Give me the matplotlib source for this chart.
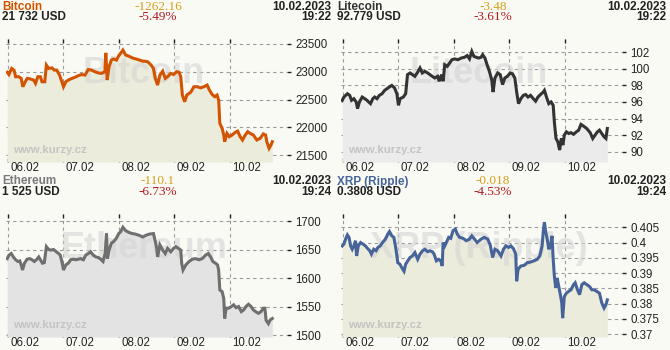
import matplotlib
matplotlib.use("Agg")
import matplotlib.pyplot as plt
import matplotlib.transforms as mtransforms

# hours since 06.02 00:00
btc_t = [-0.3, 0.4, 1.6, 2.6, 3.3, 4.7, 5.7, 6.4, 7.1, 8.3, 9.7, 11.1, 11.9, 12.9, 14.0, 14.7, 15.9, 16.6, 17.6, 19.0,
         20.0, 21.1, 22.3, 23.3, 24.0, 25.0, 26.1, 27.6, 29.0, 30.4, 31.9, 33.3, 34.7, 36.1, 37.6, 39.0, 40.4, 41.9, 42.3, 42.9,
         43.7, 44.7, 45.7, 46.9, 47.9, 48.7, 49.7, 50.9, 52.3, 53.7, 55.4, 56.9, 58.3,
         59.0, 60.4, 61.9, 62.9, 63.7, 64.7, 65.7, 66.9, 68.0, 69.0, 70.4, 71.6, 72.9, 74.0, 74.7, 75.4, 76.4, 77.3, 79.0, 80.4,
         81.9, 83.3, 84.7, 86.1, 87.1, 88.3, 89.4, 90.4, 91.1, 91.6, 92.6, 93.3, 93.7, 94.7, 95.7, 96.9, 98.3, 99.3, 100.4, 101.4,
         102.6, 103.7, 104.7, 106.1, 107.6, 109.0, 110.4, 111.4, 111.9, 112.9, 113.7, 114.3]
btc_v = [22990, 22950, 23060, 23030, 22910, 22910, 22880, 22730, 22790, 22880, 22870, 22850, 22790, 22910, 22910, 22820, 22820, 23120, 23060, 23070,
         23030, 23030, 22940, 22820, 22730, 22820, 22850, 22880, 22900, 22930, 22950, 22940, 23040, 23030, 23000, 22980, 22970, 23000, 23340, 22850,
         23090, 23210, 23230, 23210, 23290, 23330, 23390, 23300, 23280, 23250, 23230, 23210, 23190,
         23190, 23180, 23120, 23060, 22880, 22760, 22940, 23010, 22880, 22910, 22970, 22950, 23000, 22990, 22910, 22580, 22460, 22580, 22630, 22730,
         22730, 22710, 22730, 22760, 22670, 22590, 22550, 22580, 22490, 22070, 21980, 21860, 21740, 21890, 21830, 21860, 21910, 21930, 21830, 21770,
         21860, 21920, 21890, 21860, 21770, 21800, 21880, 21860, 21740, 21620, 21680, 21740]

ltc_t = [-0.3, 0.4, 1.9, 2.9, 3.7, 4.7, 5.7, 6.3, 7.1, 8.3, 9.4, 10.4, 11.1, 11.9, 12.9, 13.7, 14.7, 15.7, 16.9, 18.0,
         19.0, 20.0, 21.1, 22.3, 23.3, 24.0, 24.7, 26.1, 27.1, 27.9, 29.0, 30.0, 31.1, 32.3, 33.3, 34.3, 35.4, 36.6, 37.6, 38.6,
         39.7, 40.9, 41.6, 42.6, 43.3, 44.0, 45.1, 46.1, 47.1, 48.3, 49.7, 51.1, 52.6, 53.7, 54.7, 55.7, 56.6, 57.6, 58.6,
         59.7, 60.4, 61.4, 62.3, 63.3, 64.3, 64.9, 65.7, 66.9, 68.0, 69.0, 70.0, 71.1, 72.3, 73.3, 74.3, 75.1, 75.9, 76.9, 78.0,
         79.0, 80.0, 81.1, 82.3, 83.3, 84.3, 85.4, 86.6, 87.1, 88.0, 89.0, 90.0, 90.9, 91.4, 92.1, 92.9, 93.7, 94.4, 95.1, 95.7,
         96.6, 97.6, 98.6, 99.7, 100.9, 101.9, 102.9, 104.0, 105.4, 106.9, 108.0, 109.0, 110.0, 110.9, 111.9, 112.9, 113.7, 114.3]
ltc_v = [96.2, 96.6, 97.0, 96.8, 96.2, 96.4, 96.0, 95.2, 96.0, 96.6, 96.4, 96.2, 96.0, 95.8, 96.4, 96.6, 96.4, 96.8, 97.0, 97.4,
         97.6, 97.8, 98.0, 97.7, 97.0, 95.6, 96.4, 96.6, 97.0, 99.3, 99.5, 99.3, 99.1, 99.6, 100.1, 99.5, 99.7, 99.5, 99.3, 99.1,
         98.9, 99.1, 98.5, 99.3, 98.5, 100.5, 100.3, 100.7, 101.1, 101.2, 101.1, 101.3, 101.4, 101.6, 101.2, 102.1, 101.5, 101.4, 101.3,
         101.4, 101.7, 101.3, 100.5, 99.7, 98.7, 97.2, 98.9, 99.5, 99.3, 98.1, 98.9, 99.1, 99.5, 99.4, 98.9, 97.2, 95.8, 96.4, 96.8,
         96.9, 96.6, 96.8, 96.4, 96.1, 96.6, 96.9, 97.2, 97.4, 96.6, 95.8, 96.0, 95.6, 93.6, 91.6, 91.2, 90.2, 91.6, 90.8, 92.0,
         92.4, 92.2, 92.3, 92.1, 92.4, 92.6, 93.3, 93.1, 92.8, 92.3, 91.6, 92.0, 92.4, 92.6, 92.2, 91.8, 91.6, 92.8]

eth_t = [-0.3, 0.4, 1.4, 2.3, 3.3, 4.3, 5.1, 5.7, 6.3, 7.1, 8.3, 9.4, 10.4, 11.4, 12.3, 13.3, 14.0, 14.9, 15.7, 16.6,
         17.6, 18.6, 19.7, 20.9, 21.9, 22.6, 23.3, 24.0, 25.0, 26.1, 27.1, 28.3, 29.4, 30.4, 31.4, 32.6, 33.6, 34.7, 35.7, 36.9,
         38.0, 39.0, 40.1, 41.1, 42.0, 42.6, 43.0, 43.7, 44.7, 45.7, 46.9, 47.9, 48.7, 49.7, 50.9, 52.3, 53.7, 55.1, 56.6, 58.3,
         59.7, 61.1, 62.9, 63.7, 64.3, 64.7, 65.7, 66.9, 68.0, 69.0, 70.4, 71.6, 72.6, 73.7, 74.7, 75.1, 75.7, 76.9, 78.3, 79.7,
         81.1, 82.6, 84.0, 85.4, 86.6, 87.6, 88.6, 89.7, 90.6, 91.1, 91.6, 92.6, 93.3, 93.7, 94.3, 95.4, 96.6, 97.6, 98.6, 99.7,
         100.9, 101.9, 102.9, 104.0, 105.1, 106.1, 107.1, 108.3, 109.4, 110.4, 111.1, 111.6, 112.6, 113.3, 114.3]
eth_v = [1634, 1640, 1643, 1637, 1632, 1629, 1630, 1623, 1614, 1626, 1633, 1634, 1632, 1629, 1632, 1637, 1632, 1626, 1627, 1655,
         1650, 1649, 1650, 1646, 1643, 1640, 1629, 1614, 1623, 1626, 1632, 1633, 1632, 1633, 1634, 1632, 1640, 1643, 1646, 1640,
         1637, 1636, 1633, 1629, 1643, 1678, 1634, 1649, 1661, 1664, 1670, 1678, 1681, 1689, 1683, 1680, 1678, 1677, 1675, 1672,
         1675, 1677, 1678, 1664, 1652, 1637, 1658, 1649, 1643, 1652, 1646, 1652, 1655, 1652, 1649, 1626, 1614, 1623, 1629, 1633,
         1634, 1632, 1634, 1640, 1643, 1637, 1629, 1626, 1623, 1614, 1579, 1576, 1564, 1529, 1547, 1547, 1550, 1553, 1548, 1550,
         1541, 1544, 1550, 1554, 1550, 1544, 1541, 1538, 1541, 1547, 1547, 1526, 1520, 1526, 1529]

xrp_t = [-0.3, 0.4, 1.1, 1.9, 2.6, 3.3, 4.0, 4.7, 5.4, 5.9, 6.6, 7.6, 8.6, 9.7, 10.7, 11.6, 12.3, 13.3, 14.3, 15.1,
         16.1, 17.1, 18.3, 19.4, 20.1, 21.1, 22.0, 22.9, 23.7, 24.6, 25.4, 26.4, 27.1, 28.0, 29.0, 30.0, 31.1, 32.3, 33.3, 34.4,
         35.4, 36.6, 37.6, 38.6, 39.4, 40.4, 41.4, 42.3, 42.9, 43.3, 44.0, 44.7, 45.7, 46.6, 47.6, 48.6, 49.4, 50.4, 51.9, 53.3,
         54.7, 55.7, 56.9, 58.0,
         59.7, 61.1, 62.6, 63.7, 64.7, 65.7, 66.9, 68.3, 69.4, 70.4, 71.6, 72.6, 73.7, 74.7, 75.1, 75.7, 76.9, 78.3, 79.7, 81.1,
         82.6, 84.0, 85.1, 86.1, 86.7, 87.1, 87.6, 88.3, 89.0, 89.7, 90.4, 90.9, 91.4, 92.0, 92.6, 93.3, 94.0, 94.6, 95.0, 95.7,
         96.6, 97.6, 98.6, 99.7, 100.4, 101.4, 102.3, 103.3, 104.3, 105.4, 106.6, 107.6, 108.6, 109.7, 110.9, 111.9, 112.9, 113.7, 114.3]
xrp_v = [0.3989, 0.3995, 0.4011, 0.4025, 0.4017, 0.3989, 0.3978, 0.3989, 0.4006, 0.3956, 0.3989, 0.4000, 0.3995, 0.3989, 0.3980, 0.3973, 0.3962, 0.3978, 0.3973, 0.3984,
         0.3989, 0.4000, 0.4011, 0.4028, 0.4036, 0.4022, 0.4017, 0.3978, 0.3934, 0.3929, 0.3918, 0.3906, 0.3929, 0.3940, 0.3951, 0.3956, 0.3967, 0.3945, 0.3962, 0.3973,
         0.3978, 0.3970, 0.3973, 0.3970, 0.3962, 0.3940, 0.3945, 0.3940, 0.3923, 0.4000, 0.3989, 0.4000, 0.4017, 0.4014, 0.4039, 0.4044, 0.4028, 0.4017, 0.4014, 0.4006,
         0.4011, 0.4022, 0.4011, 0.4000,
         0.4011, 0.4017, 0.4011, 0.3991, 0.3951, 0.3978, 0.3973, 0.3956, 0.3978, 0.3989, 0.3984, 0.3989, 0.3980, 0.3962, 0.3873, 0.3912, 0.3923, 0.3925, 0.3934, 0.3936,
         0.3940, 0.3945, 0.3956, 0.3989, 0.4044, 0.4067, 0.4039, 0.4011, 0.3978, 0.3989, 0.4022, 0.3945, 0.3890, 0.3851, 0.3884, 0.3856, 0.3829, 0.3802, 0.3752, 0.3823,
         0.3834, 0.3840, 0.3845, 0.3862, 0.3868, 0.3845, 0.3829, 0.3862, 0.3868, 0.3862, 0.3856, 0.3845, 0.3845, 0.3840, 0.3834, 0.3802, 0.3785, 0.3796, 0.3812]

day_pos = [0, 24, 48, 72, 96]
day_labels = ["06.02", "07.02", "08.02", "09.02", "10.02"]

btc_ticks = [21500, 22000, 22500, 23000, 23500]
ltc_ticks = [90, 92, 94, 96, 98, 100, 102]
eth_ticks = [1500, 1550, 1600, 1650, 1700]
xrp_ticks = [0.37, 0.375, 0.38, 0.385, 0.39, 0.395, 0.4, 0.405]

W, H = 670, 350
BG = "#fafaf5"
fig = plt.figure(figsize=(6.7, 3.5), dpi=100, facecolor=BG)


def fx(px):
    return px / W


def fy(py):
    return 1 - py / H


def panel(col, row, name, price, change, pct, date, time, t, v, ticks, ylim,
          line_c, fill_c, title_c):
    x0, y0 = col * 335, row * 175
    ax = fig.add_axes([fx(x0 + 6), fy(y0 + 162), 281 / W, 123 / H])
    ax.set_facecolor(BG)
    ax.set_xlim(-0.86, 120.65)
    ax.set_ylim(*ylim)
    ax.fill_between(t, v, ylim[0], color=fill_c, lw=0, zorder=1)
    ax.text(0.49, 0.72, name, transform=ax.transAxes, ha="center", va="center",
            fontsize=26, fontweight="bold", family="Liberation Sans",
            color="#d5d5d5", alpha=0.6, zorder=2)
    ax.text(0.025, 0.1, "www.kurzy.cz", transform=ax.transAxes, ha="left", va="center",
            fontsize=8.2, fontweight="bold", family="Liberation Sans",
            color="#c4c4c4", zorder=2)
    ax.plot(t, v, color=line_c, lw=2.2, zorder=4, solid_joinstyle="miter")
    for s in ax.spines.values():
        s.set_visible(False)
    ax.set_xticks(day_pos)
    ax.set_xticklabels([])
    ax.tick_params(axis="x", top=True, bottom=True, direction="in", length=3,
                   width=1, color="#222222")
    ax.yaxis.tick_right()
    ax.set_yticks(ticks)
    ax.set_yticklabels([f"{k:g}" for k in ticks], fontsize=8.3,
                       family="Liberation Sans", color="#222222")
    ax.tick_params(axis="y", direction="out", length=3, width=1,
                   color="#222222", pad=3)
    ax.grid(True, color="#9a9a9a", linestyle=(0, (3, 3)), linewidth=0.8, zorder=0)
    ax.set_axisbelow(True)
    trans = mtransforms.blended_transform_factory(ax.transData, fig.transFigure)
    for p, lab in zip(day_pos, day_labels):
        ax.text(p + 0.9, fy(y0 + 167.5), lab, transform=trans, ha="left", va="center",
                fontsize=8.3, family="Liberation Sans", color="#222222")

    hdr = dict(family="Liberation Sans", fontweight="bold", fontsize=8.5, va="center")
    fig.text(fx(x0 + 2), fy(y0 + 6.5), name, color=title_c, ha="left", **hdr)
    fig.text(fx(x0 + 2), fy(y0 + 17), price, color="#222222", ha="left", **hdr)
    fig.text(fx(x0 + 331), fy(y0 + 6.5), date, color="#222222", ha="right", **hdr)
    fig.text(fx(x0 + 331), fy(y0 + 17), time, color="#222222", ha="right", **hdr)
    chg = dict(family="Liberation Serif", fontsize=9.5, va="center", ha="center")
    fig.text(fx(x0 + 158), fy(y0 + 6.5), change, color="#d4a01c", **chg)
    fig.text(fx(x0 + 158), fy(y0 + 17), pct, color="#b3181c", **chg)


panel(0, 0, "Bitcoin", "21 732 USD", "-1262.16", "-5.49%", "10.02.2023", "19:22",
      btc_t, btc_v, btc_ticks, (21374, 23590), "#d35400", "#ececdc", "#d35400")
panel(1, 0, "Litecoin", "92.779 USD", "-3.48", "-3.61%", "10.02.2023", "19:22",
      ltc_t, ltc_v, ltc_ticks, (88.76, 103.6), "#333333", "#ebebeb", "#333333")
panel(0, 1, "Ethereum", "1 525 USD", "-110.1", "-6.73%", "10.02.2023", "19:24",
      eth_t, eth_v, eth_ticks, (1496.5, 1712.3), "#6f6f6f", "#e3e3e3", "#7a7a7a")
panel(1, 1, "XRP (Ripple)", "0.3808 USD", "-0.018", "-4.53%", "10.02.2023", "19:24",
      xrp_t, xrp_v, xrp_ticks, (0.36902, 0.40936), "#46649a", "#ececdc", "#46649a")

fig.savefig("out.png", dpi=100, facecolor=BG)
